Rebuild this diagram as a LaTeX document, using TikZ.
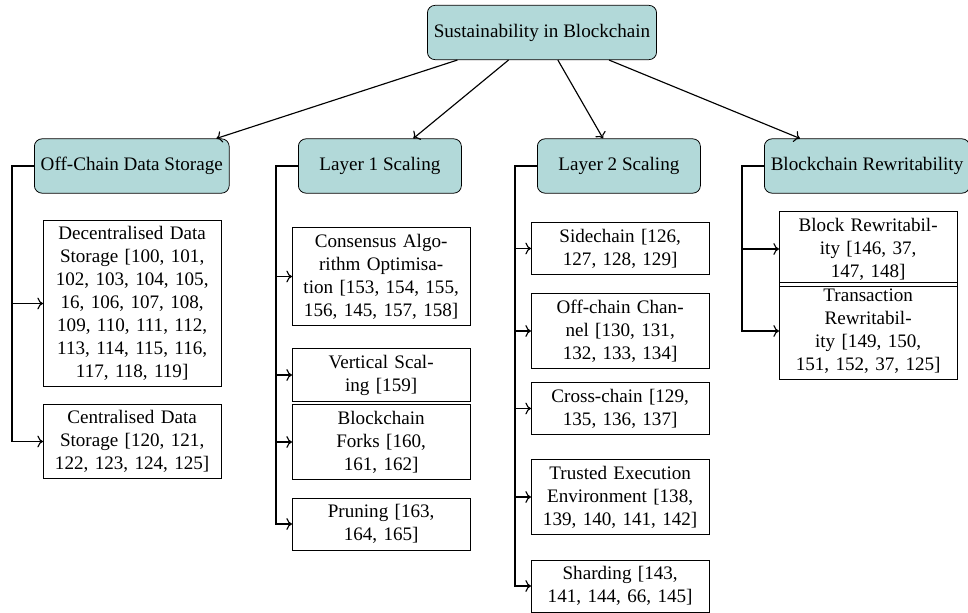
\documentclass[tikz,border=0pt]{standalone}
\usepackage{fontspec}
\setmainfont{Liberation Serif}
\usetikzlibrary{arrows.meta}

\begin{document}
\begin{tikzpicture}[
    x=0.5236pt, y=-0.5236pt,
    topic/.style={rectangle, draw, rounded corners, fill=teal!30, minimum width=3cm, minimum height=1cm, align=center},
    leaf/.style={rectangle, draw, text width=86.3pt, align=center, anchor=west},
    arrow/.style={->, semithick}
]
    \useasboundingbox (0,0) rectangle (968,613);

    % Root
    \node[topic] (root) at (542,32.5) {Sustainability in Blockchain};

    % Categories
    \node[topic, anchor=west] (off) at (34,166) {Off-Chain Data Storage};
    \node[topic, anchor=west] (lone) at (298,166) {Layer 1 Scaling};
    \node[topic, anchor=west] (ltwo) at (537,166) {Layer 2 Scaling};
    \node[topic, anchor=west] (rew) at (764,166) {Blockchain Rewritability};

    % Off-chain storage
    \node[leaf] (dds) at (43,303.5) {Decentralised Data\\Storage [100, 101,\\102, 103, 104, 105,\\16, 106, 107, 108,\\109, 110, 111, 112,\\113, 114, 115, 116,\\117, 118, 119]};
    \node[leaf] (cds) at (43,441.5) {Centralised Data\\Storage [120, 121,\\122, 123, 124, 125]};

    % Layer 1
    \node[leaf] (cao) at (292,276.5) {Consensus Algo-\\rithm Optimisa-\\tion [153, 154, 155,\\156, 145, 157, 158]};
    \node[leaf] (vsc) at (292,375) {Vertical Scal-\\ing [159]};
    \node[leaf] (bfk) at (292,442) {Blockchain\\Forks [160,\\161, 162]};
    \node[leaf] (prn) at (292,524) {Pruning [163,\\164, 165]};

    % Layer 2
    \node[leaf] (sdc) at (531,248.5) {Sidechain [126,\\127, 128, 129]};
    \node[leaf] (occ) at (531,331) {Off-chain Chan-\\nel [130, 131,\\132, 133, 134]};
    \node[leaf] (crc) at (531,408.5) {Cross-chain [129,\\135, 136, 137]};
    \node[leaf] (tee) at (531,497) {Trusted Execution\\Environment [138,\\139, 140, 141, 142]};
    \node[leaf] (shd) at (531,586) {Sharding [143,\\141, 144, 66, 145]};

    % Rewritability
    \node[leaf] (brw) at (779,249) {Block Rewritabil-\\ity [146, 37,\\147, 148]};
    \node[leaf] (trw) at (779,331) {Transaction\\Rewritabil-\\ity [149, 150,\\151, 152, 37, 125]};

    % Arrows
    \draw[arrow] (root) -- (off);
    \draw[arrow] (root) -- (lone);
    \draw[arrow] (root) -- (ltwo);
    \draw[arrow] (root) -- (rew);

    \draw[arrow] (off.west) -- ++(-22,0) |- (dds.west);
    \draw[arrow] (off.west) -- ++(-22,0) |- (cds.west);

    \draw[arrow] (lone.west) -- ++(-22,0) |- (cao.west);
    \draw[arrow] (lone.west) -- ++(-22,0) |- (vsc.west);
    \draw[arrow] (lone.west) -- ++(-22,0) |- (bfk.west);
    \draw[arrow] (lone.west) -- ++(-22,0) |- (prn.west);

    \draw[arrow] (ltwo.west) -- ++(-22,0) |- (sdc.west);
    \draw[arrow] (ltwo.west) -- ++(-22,0) |- (occ.west);
    \draw[arrow] (ltwo.west) -- ++(-22,0) |- (crc.west);
    \draw[arrow] (ltwo.west) -- ++(-22,0) |- (tee.west);
    \draw[arrow] (ltwo.west) -- ++(-22,0) |- (shd.west);

    \draw[arrow] (rew.west) -- ++(-22,0) |- (brw.west);
    \draw[arrow] (rew.west) -- ++(-22,0) |- (trw.west);

\end{tikzpicture}
\end{document}
